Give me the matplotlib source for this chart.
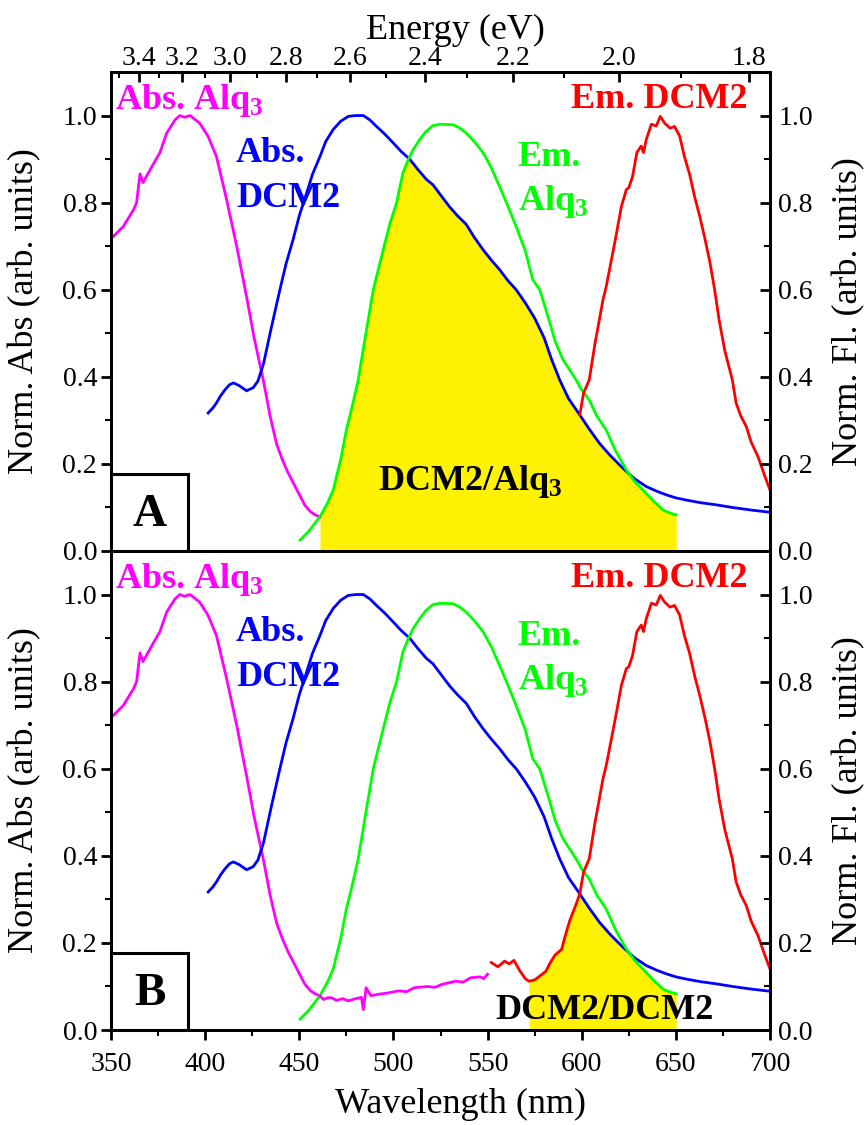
import numpy as np
import matplotlib
matplotlib.use("Agg")
import matplotlib.pyplot as plt
from matplotlib.ticker import MultipleLocator, FixedLocator, NullFormatter
from matplotlib.patches import Rectangle

plt.rcParams['font.family'] = ['Liberation Serif', 'DejaVu Serif']
plt.rcParams['mathtext.fontset'] = 'custom'
plt.rcParams['mathtext.rm'] = 'Liberation Serif'
plt.rcParams['mathtext.bf'] = 'Liberation Serif:bold'

# ---------------- data ----------------
abs_alq3_wl = [350, 356.5, 362, 363.6, 365.4, 367, 372, 376, 379.6, 384, 386.6, 389, 390.5, 392, 397,
               401.5, 406, 411.4, 416.8, 422, 426, 431, 434.5, 438, 441, 444, 447, 450, 453, 456, 458.5, 461]
abs_alq3_val = [0.717, 0.745, 0.784, 0.80, 0.866, 0.846, 0.885, 0.915, 0.96, 0.99, 1.0, 0.996, 0.998, 1.0, 0.983,
                0.953, 0.906, 0.807, 0.699, 0.584, 0.49, 0.39, 0.31, 0.245, 0.21, 0.18, 0.155, 0.13, 0.105, 0.09, 0.083, 0.078]
# extension of Alq3 absorption shown in panel B
abs_alq3_ext_wl = [461, 463, 465, 467, 470, 473, 476, 480, 483, 484, 485.5, 488, 492, 497, 503, 507, 511, 518,
                   522, 526, 533, 537, 541, 546, 548, 550]
abs_alq3_ext_val = [0.078, 0.07, 0.074, 0.074, 0.068, 0.072, 0.067, 0.072, 0.075, 0.047, 0.097, 0.079, 0.082, 0.085,
                    0.09, 0.088, 0.097, 0.1, 0.098, 0.105, 0.112, 0.11, 0.12, 0.122, 0.118, 0.128]

abs_dcm2_wl = [401.6, 404, 406, 408, 410.5, 413, 415, 418, 422, 425.5, 428, 431, 435, 439.7, 443, 446.7, 450,
               453.9, 457, 461, 464, 468, 472, 476, 480, 484, 487.5, 491, 495.5, 499.9, 504, 508.8, 513, 517.6,
               521, 525.5, 529.9, 534, 538.7, 543, 547.6, 552, 556.4, 561, 565.2, 570, 575, 580, 584, 588.3, 593,
               598.9, 604, 609.5, 615, 621.9, 628, 634.3, 640, 644.9, 650, 655.5, 663, 671.5, 680, 690, 700]
abs_dcm2_val = [0.317, 0.328, 0.34, 0.355, 0.37, 0.382, 0.386, 0.38, 0.368, 0.375, 0.39, 0.43, 0.51, 0.6, 0.66,
                0.715, 0.77, 0.822, 0.865, 0.906, 0.94, 0.968, 0.987, 0.998, 1.0, 1.0, 0.99, 0.975, 0.957, 0.937,
                0.918, 0.899, 0.876, 0.853, 0.841, 0.815, 0.79, 0.77, 0.75, 0.72, 0.692, 0.668, 0.646, 0.62, 0.6,
                0.57, 0.535, 0.49, 0.44, 0.393, 0.35, 0.313, 0.28, 0.247, 0.22, 0.19, 0.166, 0.148, 0.137, 0.129,
                0.122, 0.117, 0.111, 0.106, 0.1, 0.094, 0.089]

em_alq3_wl = [450.4, 455, 461, 465, 468, 472, 475, 478, 481.3, 485, 489.3, 494.6, 498, 501.7, 505, 508, 510.5,
              514, 517, 521, 525, 531.6, 535, 538.6, 543, 547.6, 552, 556.4, 561, 565.2, 570, 574, 577.7, 582,
              586, 590, 593, 597, 600, 604, 608, 613, 618, 623.7, 628, 632.5, 638, 643.2, 647, 650.2]
em_alq3_val = [0.025, 0.045, 0.079, 0.11, 0.14, 0.21, 0.278, 0.33, 0.393, 0.49, 0.6, 0.692, 0.75, 0.8, 0.868,
               0.9, 0.922, 0.945, 0.962, 0.977, 0.98, 0.979, 0.972, 0.96, 0.94, 0.915, 0.88, 0.837, 0.79, 0.745,
               0.69, 0.623, 0.6, 0.54, 0.48, 0.44, 0.42, 0.393, 0.37, 0.347, 0.31, 0.278, 0.23, 0.186, 0.16,
               0.14, 0.115, 0.094, 0.087, 0.083]

em_dcm2_wl = [599, 601, 604, 607, 611.3, 613, 615.7, 618.5, 621, 623.7, 625, 627, 629.3, 631.6, 632.8, 634.3,
              637, 639.6, 641.7, 644, 646.9, 649.3, 652, 654.6, 657.3, 660, 662.6, 665.3, 668, 670.6, 673, 676,
              680, 682, 684.5, 687.4, 690, 693.6, 697, 700]
em_dcm2_val = [0.313, 0.363, 0.393, 0.475, 0.577, 0.607, 0.667, 0.73, 0.79, 0.83, 0.834, 0.86, 0.915, 0.93,
               0.915, 0.945, 0.98, 0.976, 0.998, 0.983, 0.971, 0.975, 0.953, 0.905, 0.865, 0.813, 0.77, 0.72,
               0.665, 0.6, 0.53, 0.46, 0.393, 0.34, 0.31, 0.286, 0.25, 0.217, 0.175, 0.14]
# extension of DCM2 emission shown in panel B
em_dcm2_ext_wl = [552, 555.5, 559, 561.5, 564, 567, 570, 572, 575, 578.7, 581, 583.1, 585.8, 589.3, 591.5,
                  593.7, 597.3, 599]
em_dcm2_ext_val = [0.155, 0.145, 0.158, 0.152, 0.16, 0.137, 0.118, 0.112, 0.115, 0.127, 0.135, 0.153, 0.172,
                   0.185, 0.22, 0.252, 0.292, 0.313]

energy_ticks = [3.4, 3.2, 3.0, 2.8, 2.6, 2.4, 2.2, 2.0, 1.8]
energy_minor = [3.5, 3.3, 3.1, 2.9, 2.7, 2.5, 2.3, 2.1, 1.9]

MAG = '#ff00ff'
BLU = '#0000ff'
GRN = '#00ff00'
RED = '#ff0000'
YEL = '#fff200'

fig = plt.figure(figsize=(8.66, 11.25), dpi=100)
L, W = 111 / 866, 659 / 866
H = 479 / 1125
axA = fig.add_axes([L, 1 - 551 / 1125, W, H])
axB = fig.add_axes([L, 1 - 1030 / 1125, W, H])

LW = 2.0
SPW = 2.0
TS = 20
LS = 26
bold_kw = dict(fontsize=26, fontweight='bold')

def style(ax, bottom_labels):
    ax.set_xlim(350, 700)
    ax.set_ylim(0, 1.1)
    ax.xaxis.set_major_locator(MultipleLocator(50))
    ax.xaxis.set_minor_locator(MultipleLocator(25))
    ax.yaxis.set_major_locator(FixedLocator([0, 0.2, 0.4, 0.6, 0.8, 1.0]))
    ax.yaxis.set_minor_locator(FixedLocator([0.1, 0.3, 0.5, 0.7, 0.9]))
    ax.tick_params(which='both', direction='out', top=False, right=False, labelsize=TS, pad=3)
    ax.tick_params(axis='x', which='both', pad=9, labelbottom=bottom_labels)
    ax.tick_params(which='major', length=7, width=SPW)
    ax.tick_params(which='minor', length=4, width=1.5)
    for s in ax.spines.values():
        s.set_linewidth(SPW)
    ax.set_ylabel('Norm. Abs (arb. units)', fontsize=LS)
    ax.yaxis.set_label_coords(-0.105, 0.5)
    r = ax.twinx()
    r.set_ylim(0, 1.1)
    r.yaxis.set_major_locator(FixedLocator([0, 0.2, 0.4, 0.6, 0.8, 1.0]))
    r.yaxis.set_minor_locator(FixedLocator([0.1, 0.3, 0.5, 0.7, 0.9]))
    r.tick_params(which='both', direction='in', labelsize=TS, pad=6)
    r.tick_params(which='major', length=7, width=SPW)
    r.tick_params(which='minor', length=4, width=1.5)
    for s in r.spines.values():
        s.set_linewidth(SPW)
    r.set_ylabel('Norm. Fl. (arb. units)', fontsize=LS)
    r.yaxis.set_label_coords(1.094, 0.5)
    return r

rA = style(axA, False)
rB = style(axB, True)

# energy axis on top of panel A
sec = axA.secondary_xaxis('top', functions=(lambda x: 1240.0 / x, lambda e: 1240.0 / e))
sec.xaxis.set_major_locator(FixedLocator(energy_ticks))
sec.xaxis.set_minor_locator(FixedLocator(energy_minor))
sec.xaxis.set_minor_formatter(NullFormatter())
sec.set_xticklabels([f'{e:.1f}' for e in energy_ticks])
sec.tick_params(which='both', direction='in', labelsize=TS, pad=1)
sec.tick_params(which='major', length=7, width=SPW)
sec.tick_params(which='minor', length=4, width=1.5)
sec.spines['top'].set_linewidth(SPW)
sec.set_xlabel('Energy (eV)', fontsize=LS, labelpad=5)
sec.xaxis.label.set_x(0.523)

axB.set_xlabel('Wavelength (nm)', fontsize=LS)
axB.xaxis.set_label_coords(0.531, -0.12)

# ---- fills ----
grid = np.linspace(461, 650.2, 800)
topA = np.minimum(np.interp(grid, em_alq3_wl, em_alq3_val), np.interp(grid, abs_dcm2_wl, abs_dcm2_val))
axA.fill_between(grid, 0, topA, color=YEL, lw=0, zorder=1)

red_full_wl = em_dcm2_ext_wl[:-1] + em_dcm2_wl
red_full_val = em_dcm2_ext_val[:-1] + em_dcm2_val
gridB = np.linspace(572, 650.2, 400)
topB = np.minimum.reduce([np.interp(gridB, em_alq3_wl, em_alq3_val),
                          np.interp(gridB, abs_dcm2_wl, abs_dcm2_val),
                          np.interp(gridB, red_full_wl, red_full_val)])
axB.fill_between(gridB, 0, topB, color=YEL, lw=0, zorder=1)

# ---- lines ----
for ax in (axA, axB):
    ax.plot(abs_alq3_wl, abs_alq3_val, color=MAG, lw=LW, zorder=3)
    ax.plot(abs_dcm2_wl, abs_dcm2_val, color=BLU, lw=LW, zorder=3)
    ax.plot(em_alq3_wl, em_alq3_val, color=GRN, lw=LW, zorder=3)
    ax.plot(em_dcm2_wl, em_dcm2_val, color=RED, lw=LW, zorder=3)
axB.plot(abs_alq3_ext_wl, abs_alq3_ext_val, color=MAG, lw=LW, zorder=3)
axB.plot(em_dcm2_ext_wl, em_dcm2_ext_val, color=RED, lw=LW, zorder=3)

# ---- annotations ----
for ax, tag in ((axA, 'A'), (axB, 'B')):
    ax.text(352.1, 1.016, r'Abs. Alq$_\mathbf{3}$', color=MAG, ha='left', va='baseline', zorder=5, **bold_kw)
    ax.text(416.4, 0.894, 'Abs.', color=BLU, ha='left', va='baseline', zorder=5, **bold_kw)
    ax.text(416.4, 0.791, 'DCM2', color=BLU, ha='left', va='baseline', zorder=5, **bold_kw)
    ax.text(566.1, 0.883, 'Em.', color=GRN, ha='left', va='baseline', zorder=5, **bold_kw)
    ax.text(566.1, 0.784, r'Alq$_\mathbf{3}$', color=GRN, ha='left', va='baseline', zorder=5, **bold_kw)
    ax.text(594.3, 1.018, 'Em. DCM2', color=RED, ha='left', va='baseline', zorder=5, **bold_kw)
    ax.add_patch(Rectangle((0, 0), 0.117, 0.16, transform=ax.transAxes, facecolor='white',
                           edgecolor='black', lw=2.2, zorder=6, clip_on=False))
    ax.text(0.059, 0.075, tag, transform=ax.transAxes, ha='center', va='center',
            fontsize=34, fontweight='bold', zorder=7)

axA.text(491.8, 0.14, r'DCM2/Alq$_\mathbf{3}$', color='black', ha='left', va='baseline', zorder=5, **bold_kw)
axB.text(553.9, 0.025, 'DCM2/DCM2', color='black', ha='left', va='baseline', zorder=5, **bold_kw)

fig.savefig('out.png', dpi=100)
